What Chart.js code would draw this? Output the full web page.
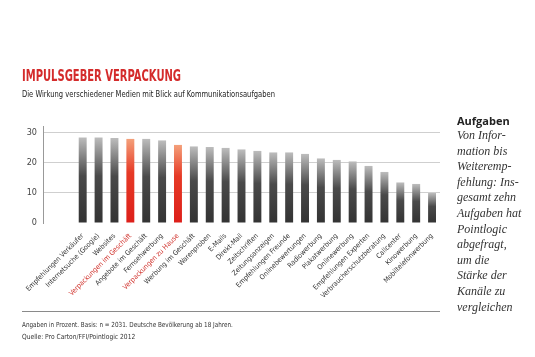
<!DOCTYPE html>
<html><head><meta charset="utf-8">
<script src="https://cdn.jsdelivr.net/npm/chart.js@4/dist/chart.umd.min.js"></script>
<style>
html,body{margin:0;padding:0;background:#fff;}
#wrap{position:relative;width:535px;height:357px;overflow:hidden;background:#fff;}
#c{position:absolute;left:0;top:0;}
.t{position:absolute;white-space:nowrap;transform-origin:0 0;}
#title{left:22px;top:67px;font:bold 15px "DejaVu Sans Condensed","DejaVu Sans",sans-serif;color:#d42b2b;transform:scaleX(0.74);}
#sub{left:22px;top:89px;font:9px "DejaVu Sans Condensed","DejaVu Sans",sans-serif;color:#222;transform:scaleX(0.835);}
#rule{position:absolute;left:22px;top:311px;width:418px;height:0;border-top:1px solid #8a8a8a;}
#f1{left:22px;top:321px;font:7px "DejaVu Sans Condensed","DejaVu Sans",sans-serif;color:#333;transform:scaleX(0.9);}
#f2{left:22px;top:333px;font:7px "DejaVu Sans Condensed","DejaVu Sans",sans-serif;color:#333;transform:scaleX(0.95);}
#side{position:absolute;left:457px;top:113px;width:80px;}
#side .h{font:bold 11px "Open Sans","DejaVu Sans",sans-serif;color:#222;line-height:15px;}
#side .b{font:italic 12px "Liberation Serif","DejaVu Serif",serif;color:#333;line-height:15.6px;}
</style></head>
<body><div id="wrap">
<canvas id="c" width="535" height="357"></canvas>
<div class="t" id="title">IMPULSGEBER VERPACKUNG</div>
<div class="t" id="sub">Die Wirkung verschiedener Medien mit Blick auf Kommunikationsaufgaben</div>
<div id="rule"></div>
<div class="t" id="f1">Angaben in Prozent. Basis: n = 2031. Deutsche Bevölkerung ab 18 Jahren.</div>
<div class="t" id="f2">Quelle: Pro Carton/FFI/Pointlogic 2012</div>
<div id="side"><div class="h">Aufgaben</div><div class="b">Von Infor-<br>mation bis<br>Weiteremp-<br>fehlung: Ins-<br>gesamt zehn<br>Aufgaben hat<br>Pointlogic<br>abgefragt,<br>um die<br>Stärke der<br>Kanäle zu<br>vergleichen</div></div>
</div>
<script>
const categories = ["Empfehlungen Verkäufer","Internetsuche (Google)","Websites","Verpackungen im Geschäft","Angebote im Geschäft","Fernsehwerbung","Verpackungen zu Hause","Werbung im Geschäft","Warenproben","E-Mails","Direkt-Mail","Zeitschriften","Zeitungsanzeigen","Empfehlungen Freunde","Onlinebewertungen","Radiowerbung","Plakatwerbung","Onlinewerbung","Empfehlungen Experten","Verbraucherschutzberatung","Callcenter","Kinowerbung","Mobiltelefonwerbung"];
const values = [28.5,28.5,28.3,28,28,27.5,26,25.5,25.3,25,24.5,24,23.5,23.5,23,21.5,21,20.5,19,17,13.5,13,10];
const highlighted = ["Verpackungen im Geschäft","Verpackungen zu Hause"];
const yTicks = [0,10,20,30];
const leadingBlanks = 2;

const labels = Array(leadingBlanks).fill("").concat(categories);
const data = Array(leadingBlanks).fill(null).concat(values);

function barFill(ctx){
  const chart = ctx.chart;
  const v = ctx.raw;
  if (v == null || !chart.chartArea) return '#444';
  const y = chart.scales.y;
  const base = y.getPixelForValue(0), top = y.getPixelForValue(v);
  const g = chart.ctx.createLinearGradient(0, base, 0, top);
  const red = highlighted.includes(labels[ctx.dataIndex]);
  if (red){
    g.addColorStop(0,'#dd1f1a'); g.addColorStop(0.6,'#e63a26'); g.addColorStop(1,'#f4a07a');
  } else {
    g.addColorStop(0,'#333333'); g.addColorStop(0.55,'#4a4a4a'); g.addColorStop(1,'#bdbdbd');
  }
  return g;
}

new Chart(document.getElementById('c'), {
  type:'bar',
  data:{labels:labels, datasets:[{data:data, backgroundColor:barFill, borderWidth:0, barPercentage:0.5, categoryPercentage:1}]},
  options:{
    responsive:false, animation:false,
    layout:{padding:{left:0,right:95,top:126,bottom:0}},
    plugins:{legend:{display:false},tooltip:{enabled:false}},
    scales:{
      x:{
        grid:{display:false}, border:{display:false},
        afterFit:(s)=>{s.height=134;},
        ticks:{autoSkip:false,minRotation:45,maxRotation:45,padding:1,
          font:{family:'"DejaVu Sans Condensed","DejaVu Sans",sans-serif',size:7},
          color:(c)=> highlighted.includes(labels[c.index]) ? '#d0302a' : '#333'}
      },
      y:{
        min:0,max:32.3,
        afterFit:(s)=>{s.width=43;},
        afterBuildTicks:(s)=>{s.ticks=yTicks.map(v=>({value:v}));},
        grid:{color:(c)=> c.tick && c.tick.value===0 ? 'rgba(0,0,0,0)' : '#cfcfcf', lineWidth:1, drawTicks:false},
        border:{display:true,color:'#999',width:1},
        ticks:{padding:6,font:{family:'"DejaVu Sans Condensed","DejaVu Sans",sans-serif',size:9},color:'#444'}
      }
    }
  }
});
</script>
</body></html>
